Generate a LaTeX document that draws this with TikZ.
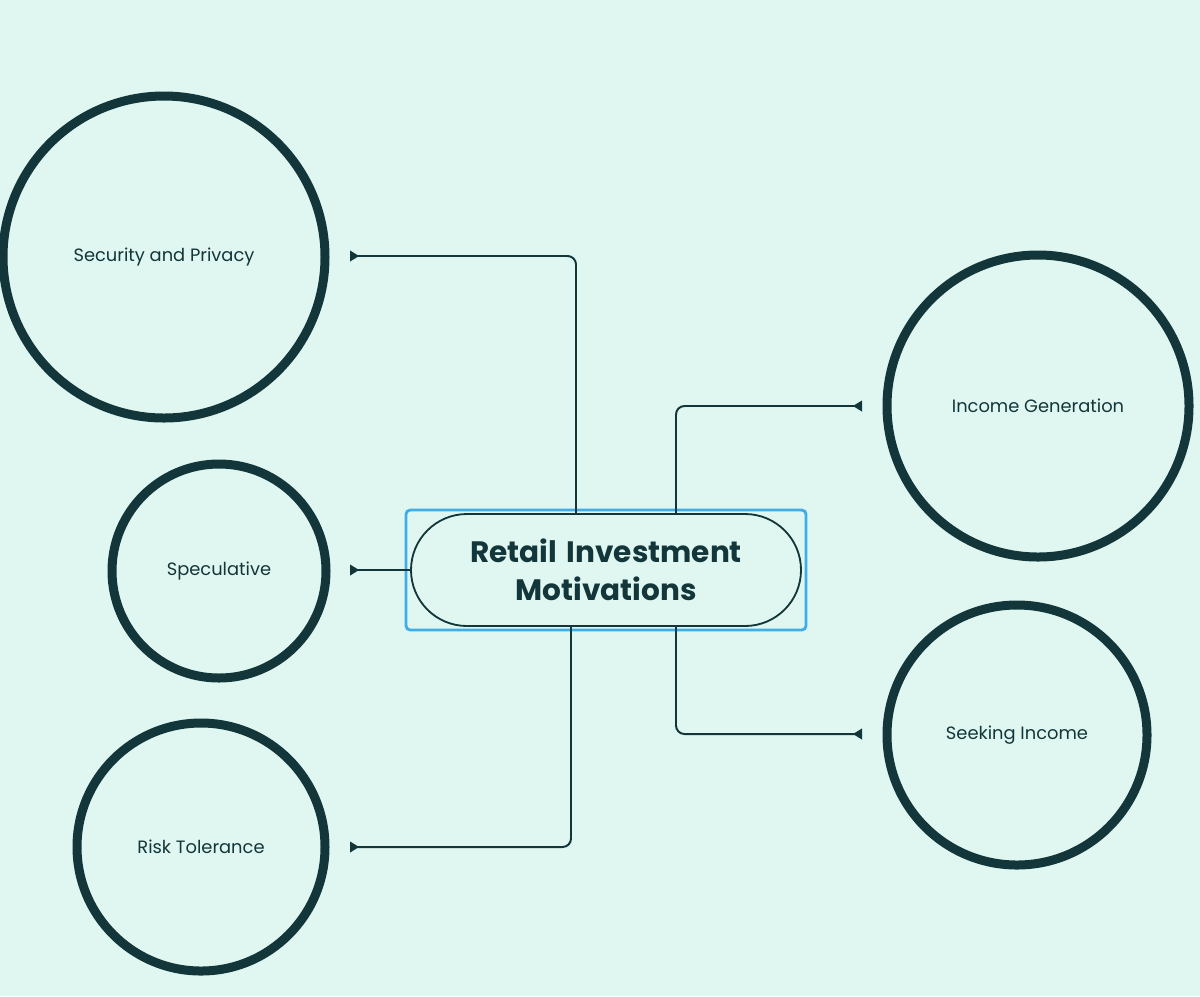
\documentclass[tikz,border=0pt]{standalone}
\usepackage{fontspec}
\setmainfont{Poppins}
\usetikzlibrary{arrows.meta,shapes.misc}
\definecolor{bgmint}{HTML}{E0F7F1}
\definecolor{inkteal}{HTML}{12363A}
\definecolor{selblue}{HTML}{3DAEE9}
\tikzset{
  motive/.style = {circle, draw=inkteal, line width=6.4pt, fill=bgmint,
    inner sep=0pt, text=inkteal, font=\fontsize{12.7}{15}\selectfont},% cercle de motivation
  hub/.style = {rounded rectangle, draw=inkteal, line width=1.3pt,
    minimum width=390*0.025cm, minimum height=112*0.025cm, align=center,
    inner xsep=0pt, text width=330*0.025cm,
    text=inkteal, font=\fontsize{21}{27}\selectfont\bfseries},% noeud central
  link/.style = {draw=inkteal, line width=1.4pt, rounded corners=6pt,
    -{Triangle[reversed,length=6.5pt,width=7.5pt]}}% connecteur
}

\begin{document}
\begin{tikzpicture}[x=0.025cm, y=-0.025cm]
\fill[bgmint] (0,0) rectangle (1200,996);
\useasboundingbox (0,0) rectangle (1200,996);

\node [motive, minimum size=322*0.025cm] (sec) at (164,257) {Security and Privacy};
\node [motive, minimum size=214*0.025cm] (spec) at (219,571) {Speculative};
\node [motive, minimum size=248*0.025cm] (risk) at (201,847) {Risk Tolerance};
\node [motive, minimum size=302*0.025cm] (inc) at (1038,406) {Income Generation};
\node [motive, minimum size=260*0.025cm] (seek) at (1017,735) {Seeking Income};

\draw [selblue, line width=2pt, rounded corners=3pt] (406,510) rectangle (806,630);
\node [hub] (rim) at (606,570) {Retail Investment\\Motivations};

\coordinate (secend) at (350,256);
\coordinate (specend) at (350,570);
\coordinate (riskend) at (350,847);
\coordinate (incend) at (862,406);
\coordinate (seekend) at (862,734);

\draw [link] (rim.north -| 576,0) |- (secend);
\draw [link] (rim.west) -- (specend);
\draw [link] (rim.south -| 571,0) |- (riskend);
\draw [link] (rim.north -| 676,0) |- (incend);
\draw [link] (rim.south -| 676,0) |- (seekend);

\end{tikzpicture}
\end{document}
